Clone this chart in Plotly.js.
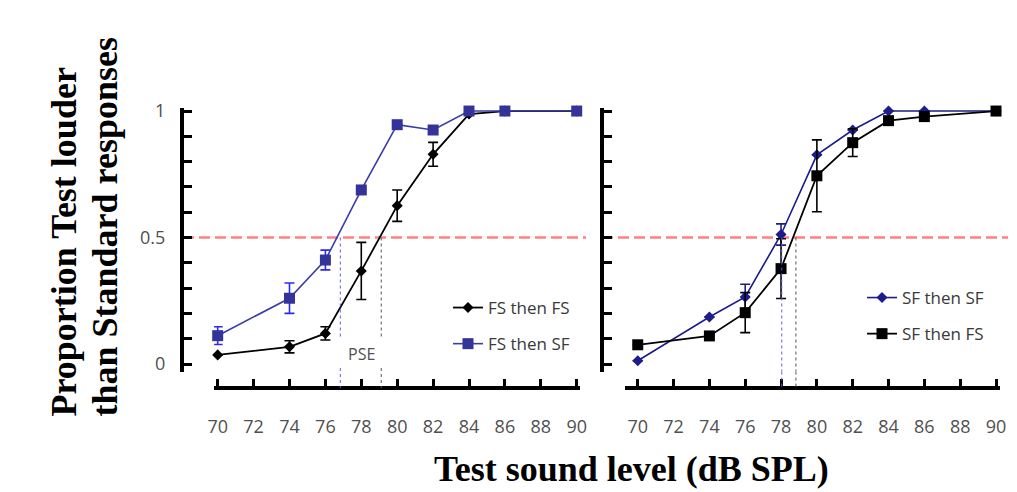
<!DOCTYPE html>
<html>
<head>
<meta charset="utf-8">
<script src="https://cdn.plot.ly/plotly-3.0.1.min.js"></script>
<style>
  html, body { margin: 0; padding: 0; background: #ffffff; }
  #chart { width: 1017px; height: 492px; }
</style>
</head>
<body>
<div id="chart"></div>
<script>
// ---- Data ----
const levels = [70, 74, 76, 78, 80, 82, 84, 86, 90];

// Left panel
const fsThenFS    = [0.036, 0.068, 0.121, 0.368, 0.626, 0.829, 0.988, 1.0, 1.0];
const fsThenFSErr = [null, 0.024, 0.026, 0.113, 0.062, 0.047, null, null, null];
const fsThenSF    = [0.112, 0.260, 0.411, 0.688, 0.946, 0.925, 1.0, 1.0, 1.0];
const fsThenSFErr = [0.035, 0.060, 0.039, null, null, null, null, null, null];

// Right panel
const sfThenSF    = [0.013, 0.186, 0.265, 0.512, 0.827, 0.925, 1.0, 1.0, 1.0];
const sfThenSFErr = [null, null, 0.050, 0.042, null, null, null, null, null];
const sfThenFS    = [0.076, 0.111, 0.203, 0.377, 0.744, 0.875, 0.962, 0.978, 1.0];
const sfThenFSErr = [null, null, 0.079, 0.118, 0.142, 0.055, null, null, null];

// Points of subjective equality (dB SPL)
const leftPSE  = {blue: 76.83, black: 79.11};
const rightPSE = {blue: 78.04, black: 78.83};
const criterion = 0.5;

// Tick labels
const xTickVals = [70, 72, 74, 76, 78, 80, 82, 84, 86, 88, 90];
const xTickText = ['70', '72', '74', '76', '78', '80', '82', '84', '86', '88', '90'];
const yTickVals = [0, 0.1, 0.2, 0.3, 0.4, 0.5, 0.6, 0.7, 0.8, 0.9, 1];
const yTickText = ['0', '', '', '', '', '0.5', '', '', '', '', '1'];

const yTitleLines = ['Proportion Test louder', 'than Standard responses'];
const xTitle = 'Test sound level (dB SPL)';

// ---- Styling ----
const NAVY = '#33339a';
const NAVY_LINE = '#3c3ca8';
const ERR_BLUE = '#2a2af0';
const DARK_NAVY = '#1c1c8a';
const TICK_GREY = '#505050';

function errObj(arr, color) {
  return {type: 'data', array: arr, visible: true, color: color, thickness: 1.6, width: 5};
}

const traces = [
  {
    x: levels, y: fsThenFS, name: 'FS then FS', type: 'scatter', mode: 'lines+markers',
    xaxis: 'x', yaxis: 'y', legend: 'legend', legendgroup: 'a', cliponaxis: false,
    line: {color: '#000000', width: 1.8},
    marker: {symbol: 'diamond', size: 8.5, color: '#000000'},
    error_y: errObj(fsThenFSErr, '#000000')
  },
  {
    x: levels, y: fsThenSF, name: 'FS then SF', type: 'scatter', mode: 'lines+markers',
    xaxis: 'x', yaxis: 'y', legend: 'legend', legendgroup: 'b', cliponaxis: false,
    line: {color: NAVY_LINE, width: 1.6},
    marker: {symbol: 'square', size: 11, color: NAVY},
    error_y: errObj(fsThenSFErr, ERR_BLUE)
  },
  {
    x: levels, y: sfThenSF, name: 'SF then SF', type: 'scatter', mode: 'lines+markers',
    xaxis: 'x2', yaxis: 'y2', legend: 'legend2', legendgroup: 'c', cliponaxis: false,
    line: {color: DARK_NAVY, width: 1.6},
    marker: {symbol: 'diamond', size: 8.5, color: DARK_NAVY},
    error_y: errObj(sfThenSFErr, DARK_NAVY)
  },
  {
    x: levels, y: sfThenFS, name: 'SF then FS', type: 'scatter', mode: 'lines+markers',
    xaxis: 'x2', yaxis: 'y2', legend: 'legend2', legendgroup: 'd', cliponaxis: false,
    line: {color: '#000000', width: 1.8},
    marker: {symbol: 'square', size: 11, color: '#000000'},
    error_y: errObj(sfThenFSErr, '#000000')
  }
];

// Geometry (paper fractions)
const W = 1017, H = 492;
const px = v => v / W;
const py = v => (H - v) / H;

const yDomain = [py(371.6), py(108)];
const xAxisPos = py(388);

function xAxis(domain, range, yanchorPos) {
  return {
    domain: domain, range: range, anchor: 'free', position: yanchorPos,
    showline: true, linecolor: '#000000', linewidth: 4,
    ticks: 'inside', ticklen: 7, tickwidth: 3, tickcolor: '#000000',
    tickmode: 'array', tickvals: xTickVals, ticktext: xTickText,
    tickfont: {family: 'Open Sans, sans-serif', size: 18, color: TICK_GREY},
    ticklabelstandoff: 21,
    showgrid: false, zeroline: false, fixedrange: true
  };
}
function yAxis(pos, showLabels) {
  return {
    domain: yDomain, range: [-0.03, 1.012], anchor: 'free', position: pos,
    showline: true, linecolor: '#000000', linewidth: 4,
    ticks: 'inside', ticklen: 8, tickwidth: 3, tickcolor: '#000000',
    tickmode: 'array', tickvals: yTickVals, ticktext: yTickText,
    showticklabels: showLabels,
    tickfont: {family: 'Open Sans, sans-serif', size: 18, color: TICK_GREY},
    ticklabelstandoff: 11,
    showgrid: false, zeroline: false, fixedrange: true
  };
}

const dashRed = {color: '#ff8080', width: 2.6, dash: '11px,5px'};
const dotBlue = {color: '#5a5aff', width: 1, dash: 'dot'};
const dotBlack = {color: '#555555', width: 1, dash: 'dot'};

const shapes = [
  // criterion lines
  {type: 'line', xref: 'paper', yref: 'y', x0: px(183), x1: px(586), y0: criterion, y1: criterion, line: dashRed, layer: 'below'},
  {type: 'line', xref: 'paper', yref: 'y2', x0: px(602), x1: px(1008), y0: criterion, y1: criterion, line: dashRed, layer: 'below'},
  // left PSE markers (upper and lower parts, gap for the label)
  {type: 'line', xref: 'x', yref: 'y', x0: leftPSE.blue, x1: leftPSE.blue, y0: criterion, y1: 0.103, line: dotBlue},
  {type: 'line', xref: 'x', yref: 'paper', x0: leftPSE.blue, x1: leftPSE.blue, y0: py(368), y1: xAxisPos, line: dotBlue},
  {type: 'line', xref: 'x', yref: 'y', x0: leftPSE.black, x1: leftPSE.black, y0: criterion, y1: 0.103, line: dotBlack},
  {type: 'line', xref: 'x', yref: 'paper', x0: leftPSE.black, x1: leftPSE.black, y0: py(368), y1: xAxisPos, line: dotBlack},
  // right PSE markers
  {type: 'line', xref: 'x2', yref: 'y2', x0: rightPSE.blue, x1: rightPSE.blue, y0: criterion, y1: -0.03, line: dotBlue},
  {type: 'line', xref: 'x2', yref: 'paper', x0: rightPSE.blue, x1: rightPSE.blue, y0: yDomain[0], y1: xAxisPos, line: dotBlue},
  {type: 'line', xref: 'x2', yref: 'y2', x0: rightPSE.black, x1: rightPSE.black, y0: criterion, y1: -0.03, line: dotBlack},
  {type: 'line', xref: 'x2', yref: 'paper', x0: rightPSE.black, x1: rightPSE.black, y0: yDomain[0], y1: xAxisPos, line: dotBlack}
];

const titleFont = {family: '"Liberation Serif", "Times New Roman", serif', size: 36, color: '#000000', weight: 'bold'};

const annotations = [
  {text: 'PSE', xref: 'x', yref: 'paper', x: 78.02, y: py(354), showarrow: false,
   xanchor: 'center', yanchor: 'middle', font: {family: 'Open Sans, sans-serif', size: 16, color: TICK_GREY}},
  {text: '<b>' + yTitleLines[0] + '</b>', xref: 'paper', yref: 'paper', x: px(63), y: py(419), textangle: -90,
   showarrow: false, xanchor: 'center', yanchor: 'bottom', font: titleFont},
  {text: '<b>' + yTitleLines[1] + '</b>', xref: 'paper', yref: 'paper', x: px(104), y: py(419), textangle: -90,
   showarrow: false, xanchor: 'center', yanchor: 'bottom', font: titleFont},
  {text: '<b>' + xTitle + '</b>', xref: 'paper', yref: 'paper', x: px(631), y: py(469),
   showarrow: false, xanchor: 'center', yanchor: 'middle', font: titleFont}
];

const legendFont = {family: 'Open Sans, sans-serif', size: 17, color: '#3a3a3a'};

const layout = {
  width: W, height: H,
  margin: {l: 0, r: 0, t: 0, b: 0, pad: 0},
  paper_bgcolor: '#ffffff', plot_bgcolor: 'rgba(0,0,0,0)',
  showlegend: true,
  xaxis: xAxis([px(214.1), px(580.3)], [69.8, 90.2], xAxisPos),
  yaxis: yAxis(px(182), true),
  xaxis2: xAxis([px(625.2), px(999.6)], [69.3, 90.2], xAxisPos),
  yaxis2: yAxis(px(601.5), false),
  legend: {x: px(448), y: py(290), xanchor: 'left', yanchor: 'top', font: legendFont,
           bgcolor: 'rgba(0,0,0,0)', traceorder: 'grouped', tracegroupgap: 11, borderwidth: 0},
  legend2: {x: px(862), y: py(280), xanchor: 'left', yanchor: 'top', font: legendFont,
            bgcolor: 'rgba(0,0,0,0)', traceorder: 'grouped', tracegroupgap: 11, borderwidth: 0},
  shapes: shapes,
  annotations: annotations
};

Plotly.newPlot('chart', traces, layout, {staticPlot: true, displayModeBar: false});
</script>
</body>
</html>
